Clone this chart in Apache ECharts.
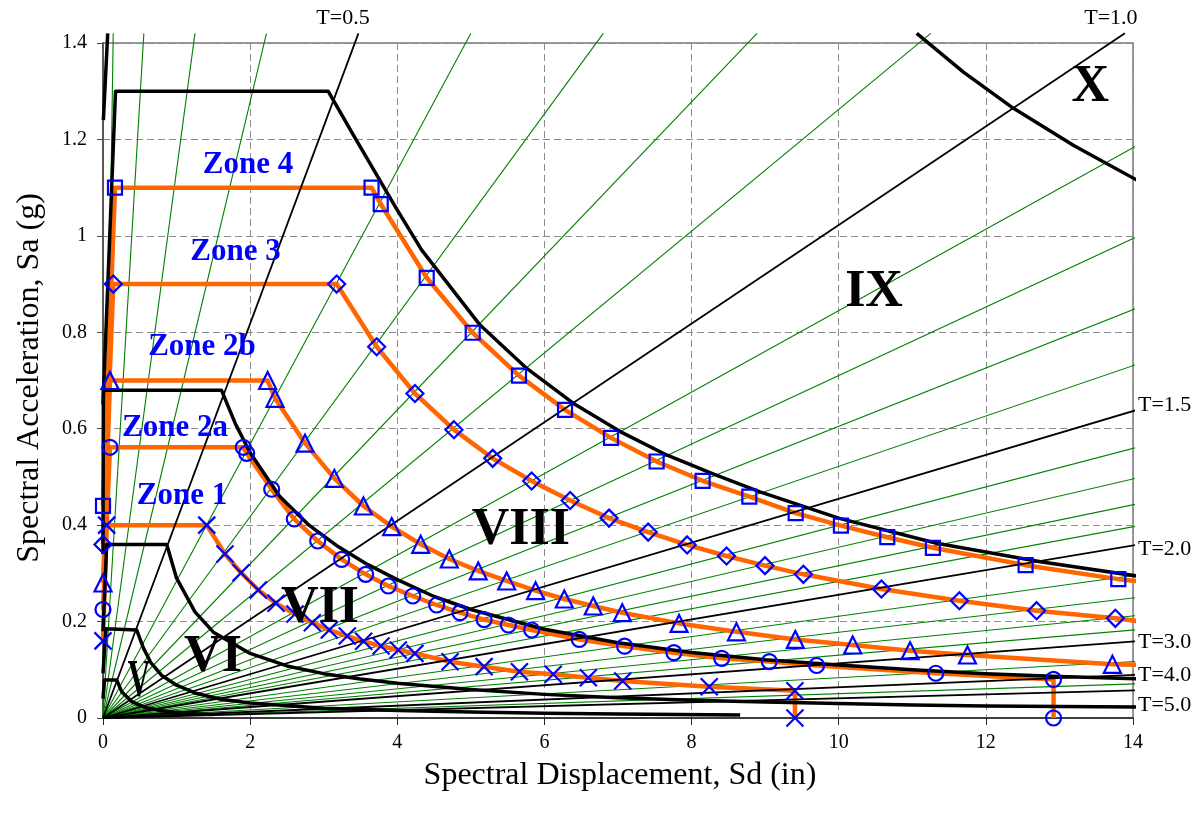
<!DOCTYPE html>
<html>
<head>
<meta charset="utf-8">
<script src="https://cdn.jsdelivr.net/npm/echarts/dist/echarts.min.js"></script>
<style>
html,body{margin:0;padding:0;background:#ffffff;}
#chart{width:1201px;height:824px;}
</style>
</head>
<body>
<div id="chart"></div>
<script>
// Axis ticks
const xTicks = [0, 2, 4, 6, 8, 10, 12, 14];
const yTicks = [0, 0.2, 0.4, 0.6, 0.8, 1, 1.2, 1.4];

// Constant-period lines from the origin: far end [Sd, Sa]
const greenPeriodEnds = [
  [0.139, 1.42], [0.555, 1.42], [1.25, 1.42], [2.222, 1.42],
  [5.0, 1.42], [6.80, 1.42], [8.89, 1.42], [11.25, 1.42],
  [14.12, 1.193], [14.12, 1.003], [14.12, 0.854], [14.12, 0.737],
  [14.12, 0.564], [14.12, 0.500], [14.12, 0.446], [14.12, 0.400],
  [14.12, 0.298], [14.12, 0.251], [14.12, 0.2136], [14.12, 0.184],
  [14.12, 0.118], [14.12, 0.0713]
];
const blackPeriodEnds = [
  [3.472, 1.42], [13.89, 1.42], [14.12, 0.642], [14.12, 0.361],
  [14.12, 0.160], [14.12, 0.090], [14.12, 0.0578]
];
const periodNames = ['T=0.5', 'T=1.0', 'T=1.5', 'T=2.0', 'T=3.0', 'T=4.0', 'T=5.0'];
const periodLabelPos = [
  [3.262, 1.452], [13.70, 1.452], [14.068, 0.649], [14.068, 0.3505],
  [14.068, 0.1576], [14.068, 0.0892], [14.068, 0.027]
];

// Intensity boundary spectra [Sd (in), Sa (g)]
const boundaryX = [[11.06, 1.42], [11.7, 1.339], [12.37, 1.265], [13.2, 1.187], [14.12, 1.110]];
const boundaryXRise = [[0.005, 1.24], [0.064, 1.42]];
const boundaryIX = [
  [0, 0.65], [0.17, 1.30], [3.06, 1.30], [3.4, 1.21], [3.97, 1.061], [4.33, 0.971],
  [5.125, 0.815], [5.76, 0.725], [6.39, 0.653], [7.03, 0.594], [7.66, 0.5455],
  [8.30, 0.506], [8.93, 0.469], [10.01, 0.414], [11.33, 0.3623], [12.74, 0.3242], [14.12, 0.293]
];
const boundaryVIII = [
  [0, 0.34], [0.005, 0.68], [1.61, 0.68], [1.8, 0.61], [2.0, 0.55], [2.4, 0.46],
  [2.8, 0.40], [3.2, 0.355], [3.6, 0.318], [4.0, 0.287], [4.5, 0.252], [5.0, 0.225],
  [6.0, 0.184], [7.0, 0.156], [8.0, 0.136], [9.0, 0.121], [10.0, 0.110], [11.0, 0.100],
  [12.0, 0.092], [13.0, 0.086], [14.12, 0.081]
];
const boundaryVII = [
  [0, 0.18], [0.05, 0.36], [0.866, 0.36], [1.0, 0.29], [1.25, 0.22], [1.5, 0.178],
  [2.0, 0.134], [2.5, 0.108], [3.0, 0.092], [3.5, 0.081], [4.0, 0.072], [5.0, 0.059],
  [6.0, 0.049], [7.0, 0.042], [8.0, 0.037], [9.0, 0.033], [10.0, 0.030], [11.0, 0.027],
  [12.0, 0.025], [13.0, 0.024], [14.12, 0.023]
];
const boundaryVI = [
  [0, 0.0925], [0.04, 0.185], [0.458, 0.1825], [0.55, 0.145], [0.65, 0.115], [0.8, 0.088],
  [1.0, 0.068], [1.25, 0.052], [1.6, 0.039], [2.0, 0.031], [3.0, 0.020], [4.0, 0.0155],
  [5.0, 0.0125], [6.0, 0.0100], [7.0, 0.0082], [8.66, 0.0062]
];
const boundaryV = [
  [0, 0.04], [0.02, 0.0788], [0.186, 0.0788], [0.254, 0.0546], [0.39, 0.034],
  [0.571, 0.022], [0.8, 0.015], [1.1, 0.010], [1.5, 0.007]
];

// Zone demand spectra: marked points and unmarked line tails
const zone4Pts = [
  [0, 0.44], [0.163, 1.10], [3.65, 1.10], [3.775, 1.066], [4.40, 0.913], [5.025, 0.799],
  [5.654, 0.710], [6.28, 0.639], [6.905, 0.581], [7.525, 0.532], [8.15, 0.492],
  [8.785, 0.459], [9.415, 0.425], [10.03, 0.399], [10.66, 0.375], [11.28, 0.353],
  [12.54, 0.317], [13.80, 0.288]
];
const zone4Tail = [[14.12, 0.283]];
const zone3Pts = [
  [0, 0.36], [0.14, 0.90], [3.176, 0.90], [3.72, 0.770], [4.24, 0.673], [4.77, 0.598],
  [5.297, 0.5385], [5.826, 0.4916], [6.35, 0.451], [6.878, 0.4146], [7.41, 0.3856],
  [7.94, 0.359], [8.475, 0.336], [8.998, 0.316], [9.52, 0.298], [10.58, 0.2676],
  [11.64, 0.2433], [12.69, 0.2226], [13.76, 0.2067]
];
const zone3Tail = [[14.12, 0.200]];
const zone2bPts = [
  [0, 0.28], [0.095, 0.70], [2.238, 0.70], [2.338, 0.663], [2.746, 0.570], [3.145, 0.497],
  [3.54, 0.4397], [3.924, 0.397], [4.318, 0.3603], [4.707, 0.3298], [5.10, 0.305],
  [5.487, 0.2842], [5.88, 0.2641], [6.27, 0.2468], [6.664, 0.2323], [7.058, 0.2184],
  [7.83, 0.1962], [8.61, 0.1788], [9.41, 0.163], [10.19, 0.1514], [10.97, 0.1397],
  [11.75, 0.1307], [13.72, 0.1114]
];
const zone2bTail = [[14.12, 0.110]];
const zone2aPts = [
  [0, 0.225], [0.095, 0.5615], [1.907, 0.5615], [1.953, 0.549], [2.293, 0.4744],
  [2.60, 0.4127], [2.918, 0.3671], [3.244, 0.329], [3.57, 0.298], [3.878, 0.2738],
  [4.21, 0.253], [4.535, 0.2344], [4.853, 0.2184], [5.18, 0.2041], [5.51, 0.1929],
  [5.827, 0.1825], [6.474, 0.163], [7.09, 0.149], [7.76, 0.1355], [8.41, 0.1238],
  [9.057, 0.117], [9.70, 0.1089], [11.32, 0.0928], [12.92, 0.080], [12.92, 0]
];
const zone1Pts = [
  [0, 0.16], [0.05, 0.40], [1.41, 0.40], [1.658, 0.340], [1.876, 0.3014], [2.111, 0.2655],
  [2.352, 0.2378], [2.61, 0.2157], [2.845, 0.1977], [3.076, 0.1825], [3.32, 0.170],
  [3.543, 0.159], [3.779, 0.1493], [4.014, 0.141], [4.24, 0.134], [4.717, 0.1168],
  [5.18, 0.1065], [5.66, 0.096], [6.12, 0.0906], [6.597, 0.0836], [7.064, 0.0767],
  [8.24, 0.065], [9.405, 0.0567], [9.405, 0]
];

// Text annotations [Sd, Sa, text]
const zoneLabels = [
  [1.971, 1.147, 'Zone 4'], [1.801, 0.9665, 'Zone 3'], [1.346, 0.7695, 'Zone 2b'],
  [0.979, 0.6015, 'Zone 2a'], [1.074, 0.4604, 'Zone 1']
];
const regionLabels = [
  [1.495, 0.1244, 'VI'], [2.95, 0.228, 'VII'], [5.68, 0.388, 'VIII'],
  [10.48, 0.8815, 'IX'], [13.42, 1.3067, 'X']
];
const regionV = [0.489, 0.0726, 'V'];

const SERIF = '"Liberation Serif", "Times New Roman", serif';
const ORANGE = '#FF6600';
const BLUE = '#0000FF';
const GREEN = '#008000';

function lineSeries(data, color, width, z) {
  return {
    type: 'line', data: data, showSymbol: false, symbol: 'none', clip: false,
    silent: true, z: z, animation: false,
    lineStyle: { color: color, width: width, cap: 'butt', join: 'round', opacity: 1 }
  };
}
function markerSeries(data, symbol, size) {
  return {
    type: 'scatter', data: data, symbol: symbol, symbolSize: size, clip: false,
    silent: true, z: 10, animation: false,
    itemStyle: { color: 'rgba(0,0,0,0)', borderColor: BLUE, borderWidth: 2.2, opacity: 1 }
  };
}
function labelSeries(items, fontSize, color, weight, position, z) {
  return {
    type: 'scatter', symbolSize: 0, clip: false, silent: true, z: z || 12, animation: false,
    itemStyle: { opacity: 1 },
    data: items.map(d => ({ value: [d[0], d[1]], name: d[2] })),
    label: {
      show: true, position: position || 'inside', distance: 0, opacity: 1,
      formatter: p => p.name, color: color, fontFamily: SERIF,
      fontSize: fontSize, fontWeight: weight
    }
  };
}

const series = [];
greenPeriodEnds.forEach(e => series.push(lineSeries([[0, 0], e], GREEN, 1.1, 2)));
series.push(lineSeries(zone4Pts.concat(zone4Tail), ORANGE, 4.5, 3));
series.push(lineSeries(zone3Pts.concat(zone3Tail), ORANGE, 4.5, 3));
series.push(lineSeries(zone2bPts.concat(zone2bTail), ORANGE, 4.5, 3));
series.push(lineSeries(zone2aPts, ORANGE, 4.5, 3));
series.push(lineSeries(zone1Pts, ORANGE, 4.5, 3));
blackPeriodEnds.forEach(e => series.push(lineSeries([[0, 0], e], '#000', 1.8, 4)));
[boundaryX, boundaryXRise, boundaryIX, boundaryVIII, boundaryVII, boundaryVI, boundaryV]
  .forEach(b => series.push(lineSeries(b, '#000', 3.5, 5)));
series.push(markerSeries(zone4Pts, 'rect', 14));
series.push(markerSeries(zone3Pts, 'diamond', 17));
series.push(markerSeries(zone2bPts, 'triangle', 17));
series.push(markerSeries(zone2aPts, 'circle', 15));
series.push(markerSeries(zone1Pts, 'path://M0,0L10,10M10,0L0,10', 17));
series.push(labelSeries(zoneLabels, 31, BLUE, 'bold'));
series.push(labelSeries(regionLabels, 52, '#000', 'bold'));
series.push(labelSeries(periodLabelPos.slice(0, 2).map((p, i) => [p[0], p[1], periodNames[i]]), 22, '#000', 'normal'));
series.push(labelSeries(periodLabelPos.slice(2).map((p, i) => [p[0], p[1], periodNames[i + 2]]), 22, '#000', 'normal', 'right'));

const titleGraphics = [
  { type: 'text', x: 620, y: 776, silent: true,
    style: { text: 'Spectral Displacement, Sd (in)', font: '32px ' + SERIF, fill: '#000', align: 'center', verticalAlign: 'middle' } },
  { type: 'text', x: 30, y: 378, rotation: Math.PI / 2, silent: true,
    style: { text: 'Spectral Acceleration, Sa (g)', font: '32px ' + SERIF, fill: '#000', align: 'center', verticalAlign: 'middle' } }
];

const chart = echarts.init(document.getElementById('chart'), null, { renderer: 'canvas' });
chart.setOption({
  animation: false,
  backgroundColor: '#ffffff',
  grid: { left: 103, top: 43, right: 68, bottom: 106, show: true, borderColor: '#9a9a9a', borderWidth: 2 },
  xAxis: {
    type: 'value', min: xTicks[0], max: xTicks[xTicks.length - 1], interval: 2,
    axisLine: { show: true, onZero: false, lineStyle: { color: '#222', width: 1.5 } },
    axisTick: { show: true, inside: false, length: 7, lineStyle: { color: '#222' } },
    axisLabel: { color: '#000', fontFamily: SERIF, fontSize: 20, margin: 15 },
    splitLine: { show: true, lineStyle: { color: '#8c8c8c', type: [7, 4], width: 1 } }
  },
  yAxis: {
    type: 'value', min: yTicks[0], max: yTicks[yTicks.length - 1], interval: 0.2,
    axisLine: { show: true, onZero: false, lineStyle: { color: '#444', width: 1.5 } },
    axisTick: { show: true, inside: false, length: 6, lineStyle: { color: '#444' } },
    axisLabel: { color: '#000', fontFamily: SERIF, fontSize: 20, margin: 16 },
    splitLine: { show: true, lineStyle: { color: '#8c8c8c', type: [7, 4], width: 1 } }
  },
  graphic: titleGraphics,
  series: series
});

// Narrow "V" region label placed through the grid's coordinate system
const vPos = chart.convertToPixel({ gridIndex: 0 }, [regionV[0], regionV[1]]);
chart.setOption({
  graphic: titleGraphics.concat([
    { type: 'text', x: vPos[0], y: vPos[1], scaleX: 0.6, silent: true, z: 20,
      style: { text: regionV[2], font: 'bold 52px ' + SERIF, fill: '#000', align: 'center', verticalAlign: 'middle' } }
  ])
});
</script>
</body>
</html>
